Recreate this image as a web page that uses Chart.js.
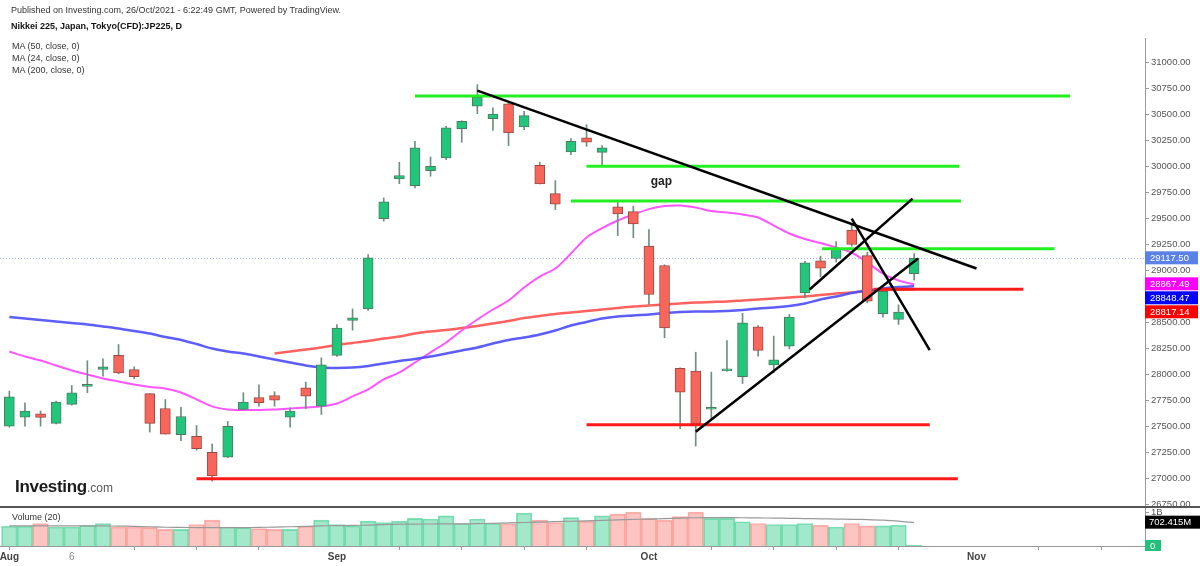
<!DOCTYPE html>
<html>
<head>
<meta charset="utf-8">
<script src="https://cdn.jsdelivr.net/npm/chart.js@4.4.0/dist/chart.umd.min.js"></script>
<style>
	body { margin: 0; background: #fff; font-family: "Liberation Sans", Arial, sans-serif; }
	#wrap { position: relative; width: 1200px; height: 566px; overflow: hidden; }
	#chart { position: absolute; left: 0; top: 0; }
	.txt { position: absolute; white-space: nowrap; color: #333; }
</style>
</head>
<body>
<div id="wrap">
	<canvas id="chart" width="1200" height="566"></canvas>
	<div class="txt" style="left:11px;top:5px;font-size:9px;">Published on Investing.com, 26/Oct/2021 - 6:22:49 GMT, Powered by TradingView.</div>
	<div class="txt" style="left:11px;top:21px;font-size:9px;font-weight:bold;color:#111;">Nikkei 225, Japan, Tokyo(CFD):JP225, D</div>
	<div class="txt" style="left:12px;top:41px;font-size:9px;">MA (50, close, 0)</div>
	<div class="txt" style="left:12px;top:53px;font-size:9px;">MA (24, close, 0)</div>
	<div class="txt" style="left:12px;top:65px;font-size:9px;">MA (200, close, 0)</div>
	<div class="txt" style="left:15px;top:477px;font-size:17px;font-weight:bold;color:#1a1a1a;letter-spacing:-0.3px;">Investing<span style="font-size:12px;font-weight:normal;color:#555;letter-spacing:0;">.com</span></div>
	<div class="txt" style="left:12px;top:512px;font-size:9px;">Volume (20)</div>
</div>
<script>
// trading days, Aug 2 - Oct 26 2021
const days = [
	"08-02", "08-03", "08-04", "08-05", "08-06", "08-10", "08-11", "08-12", "08-13", "08-16",
	"08-17", "08-18", "08-19", "08-20", "08-23", "08-24", "08-25", "08-26", "08-27", "08-30",
	"08-31", "09-01", "09-02", "09-03", "09-06", "09-07", "09-08", "09-09", "09-10", "09-13",
	"09-14", "09-15", "09-16", "09-17", "09-21", "09-22", "09-24", "09-27", "09-28", "09-29",
	"09-30", "10-01", "10-04", "10-05", "10-06", "10-07", "10-08", "10-11", "10-12", "10-13",
	"10-14", "10-15", "10-18", "10-19", "10-20", "10-21", "10-22", "10-25", "10-26",
];
const opens = [
	27503, 27589, 27622, 27529, 27712, 27886, 28048, 28183, 28046, 27815,
	27673, 27420, 27404, 27251, 27205, 27664, 27777, 27798, 27589, 27872,
	27695, 28183, 28521, 28631, 29498, 29882, 29817, 29961, 30084, 30365,
	30580, 30462, 30603, 30381, 30012, 29740, 30141, 30276, 30137, 29612,
	29567, 29234, 29048, 28058, 28033, 27665, 28035, 27978, 28459, 28093,
	28272, 28785, 29094, 29116, 29388, 29144, 28584, 28529, 28969,
];
const highs = [
	27840, 27728, 27648, 27743, 27894, 28132, 28151, 28288, 28074, 27816,
	27759, 27683, 27509, 27330, 27548, 27824, 27901, 27834, 27680, 27927,
	28160, 28479, 28631, 29154, 29699, 30042, 30243, 30093, 30387, 30441,
	30788, 30565, 30612, 30531, 30042, 29865, 30269, 30403, 30202, 29676,
	29619, 29394, 29055, 28065, 28214, 28022, 28327, 28588, 28471, 28369,
	28577, 29089, 29138, 29279, 29442, 29176, 28820, 28670, 29164,
];
const lows = [
	27493, 27503, 27503, 27524, 27705, 27824, 27984, 28007, 27959, 27446,
	27426, 27363, 27272, 26974, 27201, 27664, 27695, 27695, 27493, 27673,
	27615, 28174, 28426, 28617, 29475, 29836, 29795, 29907, 30067, 30234,
	30509, 30349, 30202, 30356, 29833, 29586, 30115, 30195, 30002, 29336,
	29314, 28673, 28353, 27478, 27311, 27567, 28032, 27913, 28177, 28016,
	28247, 28737, 28939, 29083, 29234, 28689, 28552, 28481, 28907,
];
const closes = [
	27786, 27648, 27587, 27734, 27824, 27894, 28074, 28016, 27978, 27529,
	27426, 27596, 27286, 27023, 27500, 27734, 27728, 27753, 27648, 27792,
	28093, 28447, 28544, 29122, 29661, 29914, 30180, 30002, 30372, 30436,
	30666, 30506, 30324, 30490, 29833, 29638, 30243, 30234, 30180, 29545,
	29449, 28769, 28449, 27830, 27526, 27676, 28051, 28497, 28231, 28141,
	28552, 29074, 29022, 29212, 29250, 28705, 28801, 28600, 29117.5,
];
// volume in millions
const volumes = [
	594, 594, 677, 573, 573, 625, 677, 573, 573, 563,
	500, 500, 646, 781, 573, 563, 521, 500, 500, 594,
	781, 646, 604, 750, 708, 750, 833, 813, 906, 677,
	813, 677, 677, 990, 781, 708, 854, 750, 906, 958,
	1021, 833, 781, 885, 1021, 833, 833, 729, 677, 646,
	646, 677, 625, 573, 677, 604, 604, 625, 0,
];
const volMa20 = [
	604, 604, 604, 604, 604, 604, 604, 600, 590, 580,
	565, 560, 555, 555, 552, 555, 560, 570, 580, 590,
	605, 612, 620, 630, 642, 656, 660, 663, 665, 666,
	672, 682, 695, 708, 720, 732, 745, 758, 772, 786,
	800, 810, 822, 840, 850, 854, 854, 850, 845, 840,
	833, 826, 818, 810, 803, 795, 780, 750, 702.415,
];
const ma50 = [
	28553, 28539, 28524, 28510, 28495, 28481, 28462, 28442, 28418, 28394,
	28360, 28332, 28293, 28250, 28221, 28202, 28173, 28144, 28115, 28087,
	28067, 28063, 28067, 28082, 28106, 28130, 28149, 28173, 28202, 28231,
	28260, 28298, 28332, 28356, 28385, 28423, 28471, 28505, 28539, 28558,
	28567, 28577, 28591, 28601, 28606, 28606, 28611, 28620, 28635, 28644,
	28659, 28683, 28721, 28750, 28784, 28808, 28827, 28841, 28848.47,
];
const ma24 = [
	28221, 28173, 28135, 28087, 28039, 28000, 27962, 27933, 27904, 27880,
	27866, 27827, 27760, 27693, 27664, 27659, 27659, 27664, 27673, 27683,
	27693, 27721, 27789, 27856, 27952, 28019, 28115, 28212, 28308, 28423,
	28529, 28625, 28712, 28837, 28942, 29019, 29164, 29318, 29409, 29481,
	29539, 29591, 29620, 29625, 29606, 29572, 29558, 29539, 29510, 29433,
	29356, 29303, 29264, 29221, 29173, 29077, 28971, 28904, 28867.49,
];
const ma200 = [
	null, null, null, null, null, null, null, null, null, null,
	null, null, null, null, null, null, null, 28202, 28221, 28240,
	28260, 28284, 28303, 28322, 28346, 28365, 28394, 28413, 28428, 28447,
	28466, 28490, 28514, 28543, 28563, 28582, 28596, 28611, 28625, 28640,
	28654, 28664, 28673, 28683, 28692, 28697, 28702, 28712, 28721, 28731,
	28740, 28750, 28764, 28779, 28788, 28803, 28813, 28816, 28817.14,
];
// drawings, in [day index, price] units
const trendLines = [
	[30, 30731, 62, 29019],
	[44, 27449, 58.25, 29115],
	[51.3, 28817, 57.9, 29692],
	[54, 29500, 59, 28234],
];
const greenLevels = [
	[26, 68, 30680],
	[37, 60.9, 30004],
	[36, 61, 29670],
	[52.1, 67, 29209],
];
const redLevels = [
	[55.4, 65, 28819],
	[37, 59, 27517],
	[12, 60.8, 26997],
];
const gapNote = [41.8, 29856, "gap"];
const priceTicks = [
	26750, 27000, 27250, 27500, 27750, 28000, 28250, 28500, 28750,
	29000, 29250, 29500, 29750, 30000, 30250, 30500, 30750, 31000,
];
const weekTicks = [0, 4, 8, 12, 16, 21, 25, 29, 33, 37, 41, 45, 49, 53, 57, 62, 66, 70];
const dateLabelIdx = [0, 4, 21, 41, 62];
const dateLabelText = ["Aug", "6", "Sep", "Oct", "Nov"];
const volTagValue = 702.415;

const up = days.map((d, i) => closes[i] >= opens[i]);
const FONT = '"Liberation Sans", Arial, sans-serif';
Chart.defaults.font.family = FONT;

const seg = (s, color, width) => ({
	type: "line",
	data: [{ x: s[0], y: s[1] }, { x: s[2], y: s[3] }],
	borderColor: color,
	borderWidth: width,
	pointRadius: 0,
	yAxisID: "y",
	order: 0,
});
const maLine = (arr, color, width) => ({
	type: "line",
	data: arr.map((v, i) => ({ x: i, y: v })),
	borderColor: color,
	borderWidth: width,
	pointRadius: 0,
	tension: 0.3,
	yAxisID: "y",
	order: 3,
});

const overlay = {
	id: "overlay",
	beforeDatasetsDraw(chart) {
		const { ctx, chartArea: a, scales } = chart;
		const py = Math.round(scales.y.getPixelForValue(closes[closes.length - 1])) + 0.5;
		ctx.save();
		ctx.strokeStyle = "#9db2ef";
		ctx.lineWidth = 1;
		ctx.setLineDash([1, 2]);
		ctx.beginPath();
		ctx.moveTo(a.left, py);
		ctx.lineTo(a.right, py);
		ctx.stroke();
		ctx.restore();
	},
	afterDraw(chart) {
		const { ctx, chartArea: a, scales } = chart;
		const y = scales.y, yv = scales.yv, x = scales.x;
		ctx.save();
		// panel divider
		ctx.strokeStyle = "#555";
		ctx.lineWidth = 2;
		ctx.beginPath();
		ctx.moveTo(0, y.bottom);
		ctx.lineTo(chart.width, y.bottom);
		ctx.stroke();
		// gap note
		ctx.font = "bold 12px " + FONT;
		ctx.fillStyle = "#222";
		ctx.textAlign = "center";
		ctx.textBaseline = "middle";
		ctx.fillText(gapNote[2], x.getPixelForValue(gapNote[0]), y.getPixelForValue(gapNote[1]));
		// price tags on the axis
		const last = closes.length - 1;
		const tags = [
			{ v: closes[last], bg: "#5b80e6" },
			{ v: ma24[last], bg: "#ff00ff" },
			{ v: ma50[last], bg: "#0000ff" },
			{ v: ma200[last], bg: "#ff0000" },
		].map((t) => ({ ...t, py: y.getPixelForValue(t.v) })).sort((p, q) => p.py - q.py);
		let prev = -1e9;
		ctx.font = "9.5px " + FONT;
		ctx.textAlign = "left";
		tags.forEach((t) => {
			const cy = Math.max(t.py, prev + 14);
			prev = cy;
			ctx.fillStyle = t.bg;
			ctx.fillRect(a.right, cy - 7, 53, 13);
			ctx.fillStyle = "#fff";
			ctx.fillText(t.v.toFixed(2), a.right + 5, cy);
		});
		// volume tags
		const vy = yv.getPixelForValue(volTagValue);
		ctx.fillStyle = "#000";
		ctx.fillRect(a.right, vy - 7, 55, 13);
		ctx.fillStyle = "#fff";
		ctx.fillText(volTagValue.toFixed(3) + "M", a.right + 4, vy);
		const zy = yv.getPixelForValue(volumes[last]);
		ctx.fillStyle = "#22c07a";
		ctx.fillRect(a.right, zy - 6, 16, 11);
		ctx.fillStyle = "#fff";
		ctx.fillText(String(volumes[last]), a.right + 5, zy);
		ctx.restore();
	},
};

new Chart(document.getElementById("chart"), {
	type: "bar",
	data: {
		datasets: [
			...trendLines.map((s) => seg(s, "#000", 2.5)),
			...greenLevels.map((s) => seg([s[0], s[2], s[1], s[2]], "#22f022", 3)),
			...redLevels.map((s) => seg([s[0], s[2], s[1], s[2]], "#ff1a1a", 3)),
			{
				type: "bar",
				data: days.map((d, i) => ({ x: i, y: [opens[i], closes[i]] })),
				backgroundColor: up.map((u) => (u ? "#21c67a" : "#f8665b")),
				borderColor: up.map((u) => (u ? "#4c7b62" : "#9a4a44")),
				borderWidth: 1,
				borderSkipped: false,
				barThickness: 10,
				minBarLength: 2,
				grouped: false,
				yAxisID: "y",
				order: 1,
			},
			{
				type: "bar",
				data: days.map((d, i) => ({ x: i, y: [lows[i], highs[i]] })),
				backgroundColor: "#6f8f7e",
				barThickness: 1,
				grouped: false,
				yAxisID: "y",
				order: 2,
			},
			maLine(ma50, "rgba(75,75,250,0.9)", 2.5),
			maLine(ma24, "#ff55ff", 2),
			maLine(ma200, "rgba(255,90,85,0.95)", 2.5),
			{
				type: "line",
				data: volMa20.map((v, i) => ({ x: i, y: v })),
				borderColor: "#999",
				borderWidth: 1.2,
				pointRadius: 0,
				tension: 0.3,
				yAxisID: "yv",
				order: 4,
			},
			{
				type: "bar",
				data: days.map((d, i) => ({ x: i, y: volumes[i] })),
				backgroundColor: up.map((u) => (u ? "rgba(38,200,130,0.42)" : "rgba(250,110,100,0.4)")),
				borderColor: up.map((u) => (u ? "rgba(38,200,130,0.55)" : "rgba(250,110,100,0.5)")),
				borderWidth: 1,
				borderSkipped: "bottom",
				barThickness: 15.6,
				minBarLength: 1,
				grouped: false,
				yAxisID: "yv",
				order: 5,
			},
		],
	},
	options: {
		responsive: false,
		animation: false,
		layout: { padding: { top: 38, left: 0, right: 0, bottom: 0 } },
		plugins: { legend: { display: false }, tooltip: { enabled: false } },
		scales: {
			x: {
				type: "linear",
				min: -0.6,
				max: 72.8,
				offset: false,
				afterBuildTicks: (s) => { s.ticks = weekTicks.map((v) => ({ value: v })); },
				afterFit: (s) => { s.height = 20; s.paddingLeft = 0; s.paddingRight = 0; },
				grid: {
					drawOnChartArea: false,
					tickLength: 4,
					offset: false,
					color: (c) => (c.tick && dateLabelIdx.indexOf(c.tick.value) > 0 ? "rgba(0,0,0,0)" : "#999"),
				},
				border: { color: "#999" },
				ticks: {
					autoSkip: false,
					maxRotation: 0,
					padding: 1,
					callback: (v) => {
						const k = dateLabelIdx.indexOf(v);
						return k >= 0 ? dateLabelText[k] : "";
					},
					font: (c) => ({ size: 10, weight: c.tick && c.tick.value === 4 ? "normal" : "bold" }),
					color: (c) => (c.tick && c.tick.value === 4 ? "#888" : "#444"),
				},
			},
			y: {
				type: "linear",
				position: "right",
				stack: "right",
				stackWeight: 469,
				min: 26725,
				max: 31237,
				afterBuildTicks: (s) => { s.ticks = priceTicks.map((v) => ({ value: v })); },
				afterFit: (s) => { s.width = 55; },
				grid: { drawOnChartArea: false, tickLength: 4, color: "#999" },
				border: { color: "#999" },
				ticks: {
					autoSkip: false,
					padding: 2,
					font: { size: 9.5 },
					color: "#555",
					callback: (v) => v.toFixed(2),
				},
			},
			yv: {
				type: "linear",
				position: "right",
				stack: "right",
				stackWeight: 39,
				min: 0,
				max: 1174,
				afterBuildTicks: (s) => { s.ticks = [{ value: 1000 }]; },
				afterFit: (s) => { s.width = 55; },
				grid: { drawOnChartArea: false, tickLength: 4, color: "#999" },
				border: { color: "#999" },
				ticks: { autoSkip: false, padding: 2, font: { size: 9.5 }, color: "#555", callback: () => "1B" },
			},
		},
	},
	plugins: [overlay],
});
</script>
</body>
</html>
